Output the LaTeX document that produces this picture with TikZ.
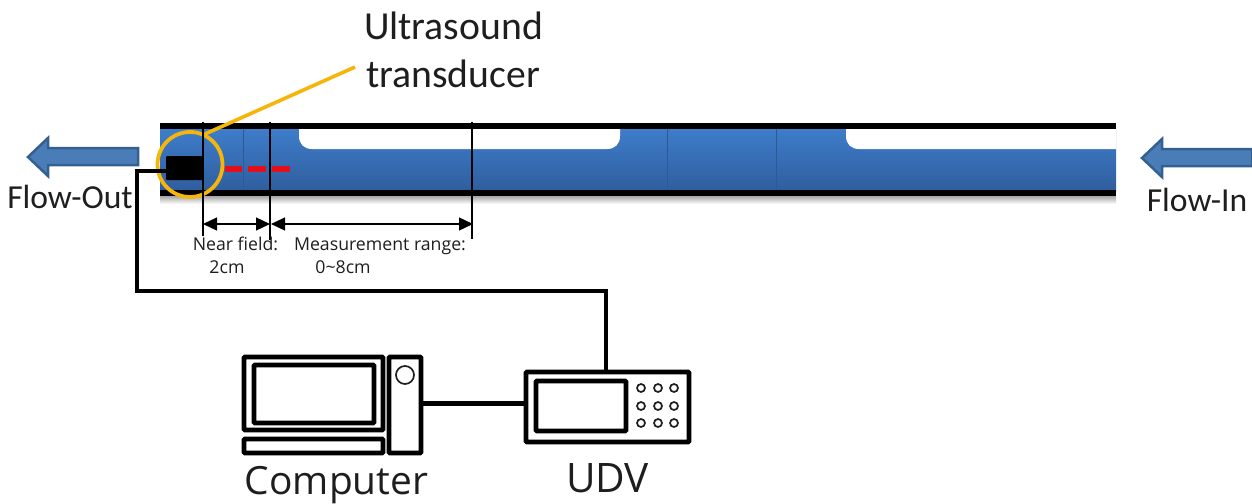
\documentclass[tikz,border=0pt]{standalone}
\usepackage{fontspec}
\setmainfont{Carlito}
\newfontfamily\uifont{Open Sans}
\usetikzlibrary{arrows.meta}
\definecolor{pipetop}{HTML}{3E7DCB}
\definecolor{pipebot}{HTML}{2F5E9E}
\definecolor{seam}{HTML}{2C5A96}
\definecolor{arrowfill}{HTML}{4A7DB8}
\definecolor{arrowedge}{HTML}{33608F}
\definecolor{ringcol}{HTML}{F5B50A}
\definecolor{inkcol}{HTML}{1E1E1E}
\definecolor{beamcol}{HTML}{E3101C}
\tikzset{
  x=1pt,y=-1pt,
  wall/.style={line width=6pt,black},
  cable/.style={line width=4.6pt,black},
  hw/.style={draw=black,line width=4.6pt,fill=white,rectangle,inner sep=0pt,outer sep=0pt,rounded corners=0.8pt},
  knob/.style={draw=inkcol,line width=1.7pt,fill=white,circle,inner sep=0pt,outer sep=0pt},
  guide/.style={line width=1.2pt,black},
  dim/.style={line width=1.2pt,black,{Triangle[length=14pt,width=13pt,fill=black]}-{Triangle[length=14pt,width=13pt,fill=black]}},
  flowarrow/.style={draw=arrowedge,line width=2.5pt,fill=arrowfill,line join=miter},
  big/.style={font=\fontsize{39.7}{39.7}\selectfont,text=inkcol,inner sep=0pt},
  mid/.style={font=\fontsize{33.6}{33.6}\selectfont,text=inkcol,inner sep=0pt},
  uibig/.style={font=\uifont\fontsize{38.9}{38.9}\selectfont,text=inkcol,inner sep=0pt},
  uibigger/.style={font=\uifont\fontsize{40.6}{40.6}\selectfont,text=inkcol,inner sep=0pt},
  small/.style={font=\uifont\fontsize{17.7}{17.7}\selectfont,text=inkcol,inner sep=0pt},
}
\begin{document}
\begin{tikzpicture}
\useasboundingbox (0,0) rectangle (1252,503);
% pipe shadow
\shade[top color=black!35,bottom color=white] (160,196) rectangle (1116,204);
% water
\shade[top color=pipetop,bottom color=pipebot] (160,128) rectangle (1116,191);
\draw[seam,line width=0.8pt] (243,129) -- (243,191) (667,129) -- (667,191) (776,129) -- (776,191);
\fill[white] (299,128) -- (299,136) .. controls (299,144) and (304,149) .. (312,149) -- (607,149) .. controls (615,149) and (620,144) .. (620,136) -- (620,128) -- cycle;
\fill[white] (846,128) -- (846,136) .. controls (846,144) and (851,149) .. (859,149) -- (1116,149) -- (1116,128) -- cycle;
% pipe walls
\draw[wall] (160,126) -- (1116,126);
\draw[wall] (160,193) -- (1116,193);
% leader and ring
\coordinate (leaderend) at (355,67);
\coordinate (leaderstart) at (205,134);
\draw[ringcol,line width=3.6pt] (leaderstart) -- (leaderend);
\node[circle,draw=ringcol,line width=3.8pt,minimum size=65pt,inner sep=0pt] (ring) at (190,164.5) {};
% transducer
\node[fill=black,minimum width=37pt,minimum height=24pt,inner sep=0pt,outer sep=0pt,rounded corners=1pt] (transducer) at (184.5,168) {};
% beam
\draw[beamcol,line width=5.5pt] (225,169) -- (242,169) (248,169) -- (266,169) (272,169) -- (290,169);
% guides and dimensions
\coordinate (a0) at (203,122); \coordinate (a1) at (203,236);
\coordinate (b0) at (270,122); \coordinate (b1) at (270,240);
\coordinate (c0) at (472,122); \coordinate (c1) at (472,239);
\draw[guide] (a0) -- (a1);
\draw[guide] (b0) -- (b1);
\draw[guide] (c0) -- (c1);
\coordinate (d1) at (203,224); \coordinate (d2) at (270,224);
\coordinate (d3) at (271,224); \coordinate (d4) at (473,224);
\draw[dim] (d1) -- (d2);
\draw[dim] (d3) -- (d4);
% dimension labels
\node[small,anchor=base] (nearlab) at (235.5,250) {Near field:};
\node[small,anchor=base] (nearval) at (227,273) {2cm};
\node[small,anchor=base] (measlab) at (380,250) {Measurement range:};
\node[small,anchor=base] (measval) at (343,273) {0\textasciitilde8cm};
% title labels
\node[big,anchor=base] (utop) at (453.5,40) {Ultrasound};
\node[big,anchor=base] (ubot) at (453,88) {transducer};
\node[mid,anchor=base] (flowout) at (70,208) {Flow-Out};
\node[mid,anchor=base] (flowin) at (1197,211) {Flow-In};
% flow arrows
\draw[flowarrow] (28,157) -- (48,138) -- (48,148) -- (138,148) -- (138,165) -- (48,165) -- (48,176) -- cycle;
\draw[flowarrow] (1142,158) -- (1162,139) -- (1162,149) -- (1252,149) -- (1252,166) -- (1162,166) -- (1162,177) -- cycle;
% computer
\node[hw,minimum width=139pt,minimum height=73pt] (monitor) at (313.5,393.5) {};
\node[hw,minimum width=120pt,minimum height=58pt] (screen) at (314,394) {};
\node[hw,minimum width=139pt,minimum height=14pt] (keyboard) at (313.5,446) {};
\node[hw,minimum width=32pt,minimum height=96pt] (tower) at (405,405) {};
\node[knob,minimum size=18pt] (power) at (405,375) {};
% UDV
\node[hw,minimum width=163pt,minimum height=70pt] (udv) at (607.5,407) {};
\node[hw,minimum width=90pt,minimum height=50pt] (udvscreen) at (581,406) {};
\foreach \i/\px in {1/641,2/658,3/674}{
  \foreach \j/\py in {1/388,2/406,3/423}{
    \node[knob,minimum size=8pt] (btn\i\j) at (\px,\py) {};
  }
}
\node[uibig,anchor=base] (computerlab) at (336.5,494) {Computer};
\node[uibigger,anchor=base] (udvlab) at (607.5,492) {UDV};
% connections
\coordinate (c1bend) at (137,291);
\coordinate (udvport) at (606,372);
\draw[cable,line join=miter] (transducer.west |- 0,171) -- (137,171) -- (c1bend) -- (udvport |- c1bend) -- (udvport);
\draw[cable] (tower.east |- 0,403.5) -- (udv.west |- 0,403.5);
\end{tikzpicture}
\end{document}
